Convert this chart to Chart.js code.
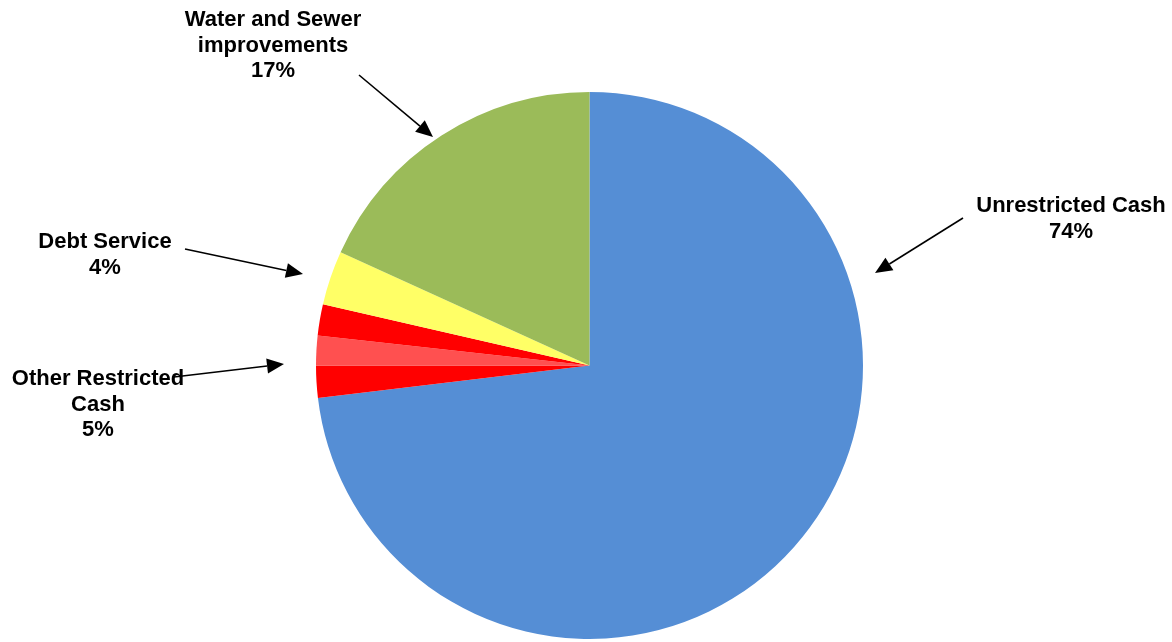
<!DOCTYPE html>
<html>
	<head>
		<meta charset="utf-8">
		<title>Cash breakdown</title>
		<script src="https://cdn.jsdelivr.net/npm/chart.js"></script>
<style>
html, body {
	margin: 0;
	padding: 0;
	background: white;
	overflow: hidden;
}
#wrap {
	position: relative;
	width: 1172px;
	height: 642px;
}
</style>
	</head>
<body>
<div id="wrap"><canvas id="myChart"></canvas></div>

<script>
// slices, clockwise from 12 o'clock
const sliceNames = ["Unrestricted Cash", "Other Restricted Cash 1", "Other Restricted Cash 2", "Other Restricted Cash 3", "Debt Service", "Water and Sewer improvements"];
const sliceValues = [73.1, 1.9, 1.75, 1.85, 3.2, 18.2];
const sliceColors = ["#558ED5", "#FF0000", "#FF5050", "#FF0000", "#FFFF66", "#9BBB59"];

// callout texts
const calloutNames = [["Unrestricted Cash"], ["Water and Sewer", "improvements"], ["Debt Service"], ["Other Restricted", "Cash"]];
const calloutPercents = ["74%", "17%", "4%", "5%"];

// where each callout sits: text centre x, first baseline, arrow tail and tip
const calloutPlaces = [
	{x: 1071, y: 212, from: [963, 218], to: [875, 273]},
	{x: 273, y: 26, from: [359, 75], to: [433, 137]},
	{x: 105, y: 248, from: [185, 249], to: [303, 274]},
	{x: 98, y: 385, from: [174, 377], to: [284, 364]}
];

function arrow(ctx, x1, y1, x2, y2) {
	var ang = Math.atan2(y2 - y1, x2 - x1);
	var len = 17, half = 7.5;
	var bx = x2 - len * Math.cos(ang), by = y2 - len * Math.sin(ang);
	ctx.beginPath();
	ctx.moveTo(x1, y1);
	ctx.lineTo(bx, by);
	ctx.lineWidth = 1.6;
	ctx.strokeStyle = "black";
	ctx.stroke();
	ctx.beginPath();
	ctx.moveTo(x2, y2);
	ctx.lineTo(bx + half * Math.sin(ang), by - half * Math.cos(ang));
	ctx.lineTo(bx - half * Math.sin(ang), by + half * Math.cos(ang));
	ctx.closePath();
	ctx.fillStyle = "black";
	ctx.fill();
}

const callouts = {
	id: "callouts",
	afterDraw(chart) {
		var ctx = chart.ctx;
		ctx.save();
		ctx.font = "bold 22px 'Liberation Sans', Arial, sans-serif";
		ctx.textAlign = "center";
		ctx.textBaseline = "alphabetic";
		ctx.fillStyle = "black";
		calloutPlaces.forEach((p, i) => {
			var lines = calloutNames[i].concat([calloutPercents[i]]);
			lines.forEach((t, j) => {
				ctx.fillText(t, p.x, p.y + j * 25.5);
			});
		});
		calloutPlaces.forEach((p) => {
			arrow(ctx, p.from[0], p.from[1], p.to[0], p.to[1]);
		});
		ctx.restore();
	}
};

new Chart("myChart", {
	type: "pie",
	data: {
		labels: sliceNames,
		datasets: [{
			data: sliceValues,
			backgroundColor: sliceColors,
			borderWidth: 0
		}]
	},
	options: {
		responsive: true,
		maintainAspectRatio: false,
		animation: false,
		layout: {
			padding: {top: 92, bottom: 3, left: 7, right: 0}
		},
		plugins: {
			legend: {display: false},
			tooltip: {enabled: false}
		}
	},
	plugins: [callouts]
});
</script>

</body>
</html>
